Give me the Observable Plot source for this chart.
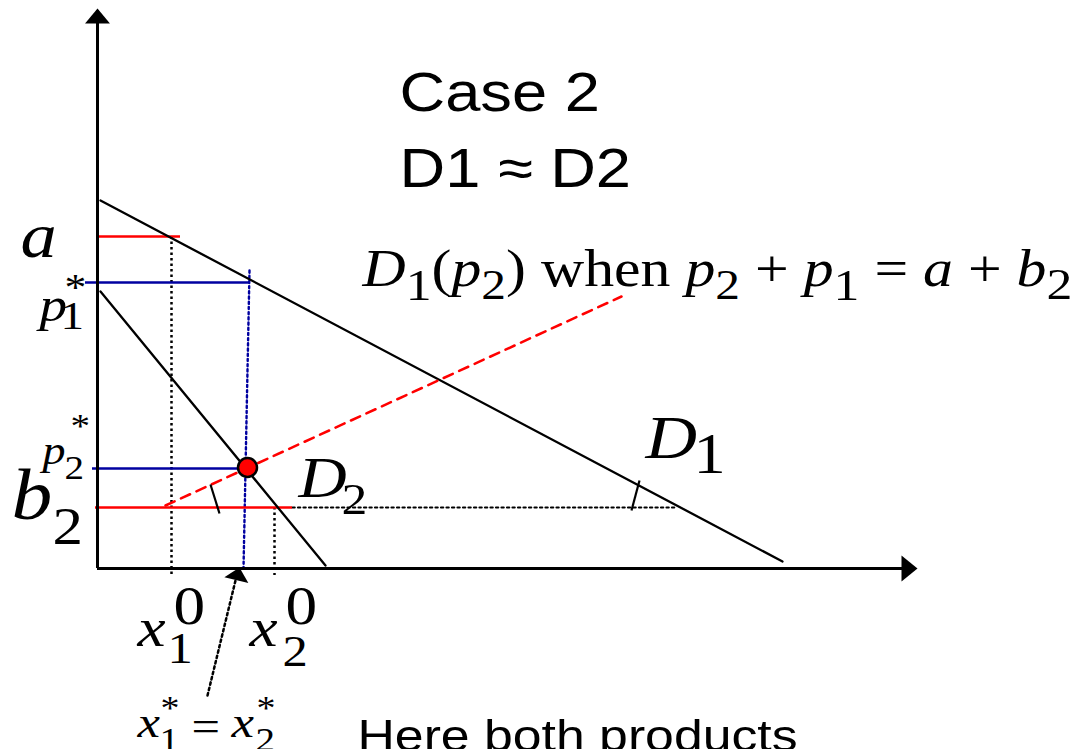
<!DOCTYPE html>
<html>
<head>
<meta charset="utf-8">
<script src="https://cdn.jsdelivr.net/npm/d3@7"></script>
<script src="https://cdn.jsdelivr.net/npm/@observablehq/plot@0.6"></script>
<style>
  html, body { margin: 0; padding: 0; background: #fff; }
  #chart svg { display: block; }
</style>
</head>
<body>
<div id="chart"></div>
<script>
// ---- Diagram data (q = quantity, p = price; origin at the axes' corner) ----
const axisX = [{p: 0, q0: 0, q1: 818}];
const axisY = [{q: 0, p0: 0, p1: 558}];
const arrowTips = [{q: 820, p: 0, dir: "right"}, {q: 0, p: 560, dir: "up"}];
const demandD1 = [[3, 368], [685, 7]];
const demandD2 = [[3, 277], [228, 3]];
const reactionLine = [[68, 63], [524, 272]];          // D1(p2) when p2 + p1 = a + b2
const redLevels = [{p: 332, q0: 0, q1: 83}, {p: 61, q0: -2, q1: 195}];   // a, b2
const blueLevels = [{p: 286, q0: -12, q1: 153}, {p: 100, q0: -5, q1: 150}]; // p1*, p2*
const dropLines = [{q: 74, p0: 332, p1: -7}, {q: 177, p0: 61, p1: -7}];    // x1^0, x2^0
const blueDrop = [[152, 298], [146, 0]];                // x1* = x2*
const b2Dotted = [[195, 61], [578, 61]];
const equilibrium = [{q: 150, p: 101}];
const slopeTicks = [[[113, 84], [122, 55]], [[542, 88], [534, 58]]];
const pointerLine = [[110, -127], [138, -12]];
const pointerTip = [{q: 142, p: 1}];

// ---- Text ----
const titleLines = ["Case 2", "D1 ≈ D2"];
const footText = "Here both products";
const equationTokens = [
  ["D", "i", 52, 0], ["1", "r", 45, 14], ["(", "r", 52, 0], ["p", "i", 52, 0], ["2", "r", 43, 13],
  [") ", "r", 52, 0], ["when ", "r", 52, 0], ["p", "i", 52, 0], ["2", "r", 43, 13], [" + ", "r", 52, 0],
  ["p", "i", 52, 0], ["1", "r", 45, 14], [" = ", "r", 52, 0], ["a", "i", 52, 0], [" + ", "r", 52, 0],
  ["b", "i", 52, 0], ["2", "r", 45, 13]
];
const mathGlyphs = [
  {t: "a", style: "i", size: 63, q: -77, p: 312},
  {t: "p", style: "i", size: 48, q: -58, p: 248},
  {t: "1", style: "r", size: 41, q: -37, p: 240},
  {t: "*", style: "r", size: 38, q: -33, p: 269},
  {t: "p", style: "i", size: 40, q: -55, p: 105},
  {t: "2", style: "r", size: 34, q: -33, p: 90},
  {t: "*", style: "r", size: 34, q: -27, p: 132},
  {t: "b", style: "i", size: 71, q: -86, p: 50},
  {t: "2", style: "r", size: 53, q: -45, p: 25},
  {t: "D", style: "i", size: 58, q: 201, p: 72},
  {t: "2", style: "r", size: 45, q: 244, p: 55},
  {t: "D", style: "i", size: 62, q: 548, p: 111},
  {t: "1", style: "r", size: 56, q: 596, p: 96},
  {t: "x", style: "i", size: 55, q: 40, p: -77},
  {t: "1", style: "r", size: 44, q: 70, p: -94},
  {t: "0", style: "r", size: 55, q: 76, p: -55},
  {t: "x", style: "i", size: 55, q: 152, p: -77},
  {t: "2", style: "r", size: 44, q: 185, p: -97},
  {t: "0", style: "r", size: 55, q: 188, p: -55},
  {t: "x", style: "i", size: 44, q: 40, p: -168},
  {t: "1", style: "r", size: 34, q: 62, p: -182},
  {t: "*", style: "r", size: 33, q: 63, p: -150},
  {t: "=", style: "r", size: 44, q: 94, p: -172},
  {t: "x", style: "i", size: 44, q: 134, p: -168},
  {t: "2", style: "r", size: 34, q: 158, p: -182},
  {t: "*", style: "r", size: 33, q: 159, p: -150}
];

// ---- Layout helpers ----
const STRETCH = 1.15;
const RED = "#ff0000", BLUE = "#0000a0";
const ctx = document.createElement("canvas").getContext("2d");
const fontOf = (style, size) =>
  style === "s" ? `${size}px "Liberation Sans"` : `${style === "i" ? "italic " : ""}${size}px "Liberation Serif"`;
function layoutTokens(q0, p0, tokens) {
  let q = q0; const out = [];
  for (const [t, style, size, dy] of tokens) {
    const lead = t.length - t.trimStart().length;
    ctx.font = fontOf(style, size);
    const leadW = ctx.measureText(t.slice(0, lead)).width * STRETCH;
    out.push({t: t.trim(), style, size, q: q + leadW, p: p0 - dy});
    q += ctx.measureText(t).width * STRETCH;
  }
  return out;
}
const glyphs = mathGlyphs.concat(layoutTokens(265, 283, equationTokens));
const sansText = [
  {t: titleLines[0], size: 55, q: 302, p: 458},
  {t: titleLines[1], size: 55, q: 302, p: 382},
  {t: footText, size: 45, q: 260, p: -182}
];

function arrowSymbol(angleDeg, ratio) {
  const a = angleDeg * Math.PI / 180, c = Math.cos(a), s = Math.sin(a);
  const rot = (x, y) => [x * c - y * s, x * s + y * c];
  return {
    draw(context, size) {
      const r = Math.sqrt(size / Math.PI);
      const pts = [[0, 0], [ratio * r, r], [-ratio * r, r]].map(([x, y]) => rot(x, y));
      context.moveTo(...pts[0]); context.lineTo(...pts[1]); context.lineTo(...pts[2]); context.closePath();
    }
  };
}

const tx = d => d[0], ty = d => d[1];
const plot = Plot.plot({
  width: 1081, height: 749,
  margin: 0,
  x: {domain: [-97, 984], axis: null},
  y: {domain: [-181, 568], axis: null},
  marks: [
    // dotted guides
    Plot.ruleX(dropLines, {x: "q", y1: "p0", y2: "p1", stroke: "black", strokeWidth: 2.5, strokeDasharray: "2.5,3"}),
    Plot.line(b2Dotted, {x: tx, y: ty, stroke: "black", strokeWidth: 2.2, strokeDasharray: "2.2,3.3"}),
    Plot.line(blueDrop, {x: tx, y: ty, stroke: BLUE, strokeWidth: 2.4, strokeDasharray: "2.2,3"}),
    // price levels
    Plot.ruleY(redLevels, {y: "p", x1: "q0", x2: "q1", stroke: RED, strokeWidth: 2.5}),
    Plot.ruleY(blueLevels, {y: "p", x1: "q0", x2: "q1", stroke: BLUE, strokeWidth: 2.5}),
    // demand curves
    Plot.line(demandD1, {x: tx, y: ty, stroke: "black", strokeWidth: 2.3}),
    Plot.line(demandD2, {x: tx, y: ty, stroke: "black", strokeWidth: 2.3}),
    Plot.line(reactionLine, {x: tx, y: ty, stroke: RED, strokeWidth: 2.5, strokeDasharray: "10,7"}),
    Plot.link(slopeTicks, {x1: d => d[0][0], y1: d => d[0][1], x2: d => d[1][0], y2: d => d[1][1], stroke: "black", strokeWidth: 2.2}),
    // axes
    Plot.ruleY(axisX, {y: "p", x1: "q0", x2: "q1", stroke: "black", strokeWidth: 3}),
    Plot.ruleX(axisY, {x: "q", y1: "p0", y2: "p1", stroke: "black", strokeWidth: 3}),
    Plot.dot(arrowTips.filter(d => d.dir === "up"), {x: "q", y: "p", r: 15, symbol: arrowSymbol(0, 0.83), fill: "black", stroke: "none"}),
    Plot.dot(arrowTips.filter(d => d.dir === "right"), {x: "q", y: "p", r: 16, symbol: arrowSymbol(90, 0.82), fill: "black", stroke: "none"}),
    // pointer arrow
    Plot.line(pointerLine, {x: tx, y: ty, stroke: "black", strokeWidth: 2.5, strokeDasharray: "2.5,3"}),
    Plot.dot(pointerTip, {x: "q", y: "p", r: 13, symbol: arrowSymbol(14, 0.95), fill: "black", stroke: "none"}),
    // equilibrium
    Plot.dot(equilibrium, {x: "q", y: "p", r: 9.5, fill: RED, stroke: "black", strokeWidth: 2.5}),
    // text
    Plot.text(glyphs.filter(d => d.style === "i"), {x: "q", y: "p", text: "t", fontSize: d => d.size, fontFamily: "Liberation Serif", fontStyle: "italic", textAnchor: "start", lineAnchor: "bottom", fill: "black"}),
    Plot.text(glyphs.filter(d => d.style === "r"), {x: "q", y: "p", text: "t", fontSize: d => d.size, fontFamily: "Liberation Serif", textAnchor: "start", lineAnchor: "bottom", fill: "black"}),
    Plot.text(sansText, {x: "q", y: "p", text: "t", fontSize: d => d.size, fontFamily: "Liberation Sans", textAnchor: "start", lineAnchor: "bottom", fill: "black"})
  ]
});
// horizontal stretch of lettering (as in the original slide)
d3.select(plot).selectAll("text").each(function () {
  const tr = this.getAttribute("transform");
  if (tr) this.setAttribute("transform", tr + ` scale(${STRETCH},1)`);
  else {
    const x = +this.getAttribute("x") || 0, y = +this.getAttribute("y") || 0;
    this.removeAttribute("x"); this.removeAttribute("y");
    this.setAttribute("transform", `translate(${x},${y}) scale(${STRETCH},1)`);
  }
});
document.getElementById("chart").appendChild(plot);
</script>
</body>
</html>
